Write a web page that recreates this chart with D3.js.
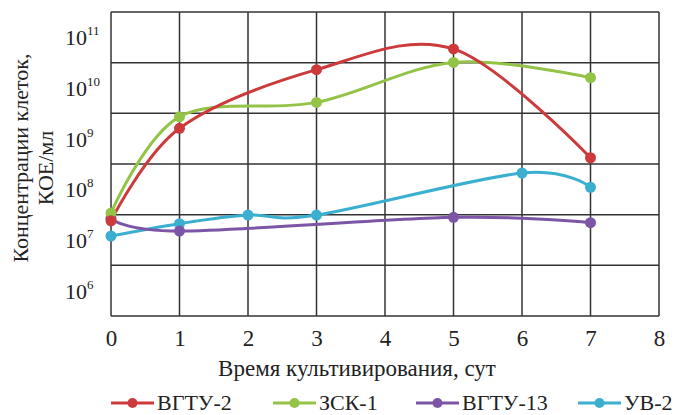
<!DOCTYPE html>
<html><head><meta charset="utf-8">
<script src="https://cdn.jsdelivr.net/npm/d3@7"></script>
<style>body{margin:0;background:#fff}svg{display:block}</style>
</head><body><svg id="c" width="677" height="415"></svg>
<script>
const FONT = "'Liberation Serif', 'Times New Roman', Tinos, 'DejaVu Serif', serif";
const seriesNames = ["ВГТУ-2", "ЗСК-1", "ВГТУ-13", "УВ-2"];
const seriesColors = ["#cc3a3b", "#93c347", "#7c55a6", "#3bafd0"];
const days_vgtu2 = [0, 1, 3, 5, 7];
const vals_vgtu2 = [2.4e7, 1.6e9, 2.3e10, 5.9e10, 4.2e8];
const days_zsk1 = [0, 1, 3, 5, 7];
const vals_zsk1 = [3.4e7, 2.7e9, 5.2e9, 3.2e10, 1.6e10];
const days_vgtu13 = [0, 1, 5, 7];
const vals_vgtu13 = [2.7e7, 1.5e7, 2.8e7, 2.2e7];
const days_uv2 = [0, 1, 2, 3, 6, 7];
const vals_uv2 = [1.2e7, 2.1e7, 3.1e7, 3.1e7, 2.1e8, 1.1e8];
const xTicks = [0, 1, 2, 3, 4, 5, 6, 7, 8];
const yTickExps = [6, 7, 8, 9, 10, 11];
const xTitle = "Время культивирования, сут";
const yTitle1 = "Концентрации клеток,";
const yTitle2 = "КОЕ/мл";

const series = [
  {days: days_vgtu2, vals: vals_vgtu2},
  {days: days_zsk1, vals: vals_zsk1},
  {days: days_vgtu13, vals: vals_vgtu13},
  {days: days_uv2, vals: vals_uv2}
].map((s, i) => ({name: seriesNames[i], color: seriesColors[i], pts: s.days.map((d, j) => ({x: d, y: s.vals[j]}))}));

const svg = d3.select("#c");
const L = 111, R = 659, T = 12, B = 316;
const x = d3.scaleLinear().domain([0, 8]).range([L, R]);
const y = d3.scaleLog().domain([Math.pow(10, 5.5), Math.pow(10, 11.5)]).range([B, T]);

// grid
const gridY = d3.range(5.5, 11.51, 1).map(e => Math.pow(10, e));
svg.append("g").selectAll("line").data(gridY).join("line")
  .attr("x1", L).attr("x2", R).attr("y1", d => y(d)).attr("y2", d => y(d))
  .attr("stroke", "#333").attr("stroke-width", 1.5);
svg.append("g").selectAll("line").data(xTicks).join("line")
  .attr("x1", d => x(d)).attr("x2", d => x(d)).attr("y1", T).attr("y2", B)
  .attr("stroke", "#333").attr("stroke-width", 1.5);

// x axis labels
const xa = svg.append("g").attr("transform", `translate(0,${B})`)
  .call(d3.axisBottom(x).tickValues(xTicks).tickSize(0).tickPadding(0).tickFormat(d3.format("d")));
xa.select(".domain").remove();
xa.attr("font-family", null).attr("font-size", null);
xa.selectAll("text").attr("font-size", 23).attr("dy", null).attr("y", 30).attr("font-family", FONT).attr("fill", "#222");

// y labels
const ya = svg.append("g");
yTickExps.forEach(e => {
  const t = ya.append("text").attr("x", 65).attr("y", y(Math.pow(10, e)) + 8).attr("font-size", 22).attr("font-family", FONT).attr("fill", "#222");
  t.append("tspan").text("10");
  t.append("tspan").text(e).attr("font-size", 13).attr("dy", -10);
});

// titles
svg.append("text").attr("x", 357).attr("y", 376).attr("text-anchor", "middle").attr("font-size", 23).attr("font-family", FONT).attr("fill", "#222").text(xTitle);
svg.append("text").attr("transform", "translate(28,158) rotate(-90)").attr("text-anchor", "middle").attr("font-size", 22).attr("font-family", FONT).attr("fill", "#222").text(yTitle1);
svg.append("text").attr("transform", "translate(53,168) rotate(-90)").attr("text-anchor", "middle").attr("font-size", 22).attr("font-family", FONT).attr("fill", "#222").text(yTitle2);

// lines
const line = d3.line().x(d => x(d.x)).y(d => y(d.y)).curve(d3.curveCardinal.tension(0));
const order = [3, 2, 1, 0];
order.forEach(i => {
  const s = series[i];
  svg.append("path").attr("d", line(s.pts)).attr("fill", "none").attr("stroke", s.color).attr("stroke-width", 3);
});
order.forEach(i => {
  const s = series[i];
  svg.append("g").selectAll("circle").data(s.pts).join("circle")
    .attr("cx", d => x(d.x)).attr("cy", d => y(d.y)).attr("r", 5.5).attr("fill", s.color);
});

// legend
const legX = [111, 273, 416, 578];
const lg = svg.append("g");
series.forEach((s, i) => {
  const lx = legX[i], ly = 403;
  lg.append("line").attr("x1", lx).attr("x2", lx + 43).attr("y1", ly).attr("y2", ly).attr("stroke", s.color).attr("stroke-width", 3);
  lg.append("circle").attr("cx", lx + 21.5).attr("cy", ly).attr("r", 5).attr("fill", s.color);
  lg.append("text").attr("x", lx + 46).attr("y", 410).attr("font-size", 22).attr("font-family", FONT).attr("fill", "#222").text(s.name);
});
</script></body></html>
